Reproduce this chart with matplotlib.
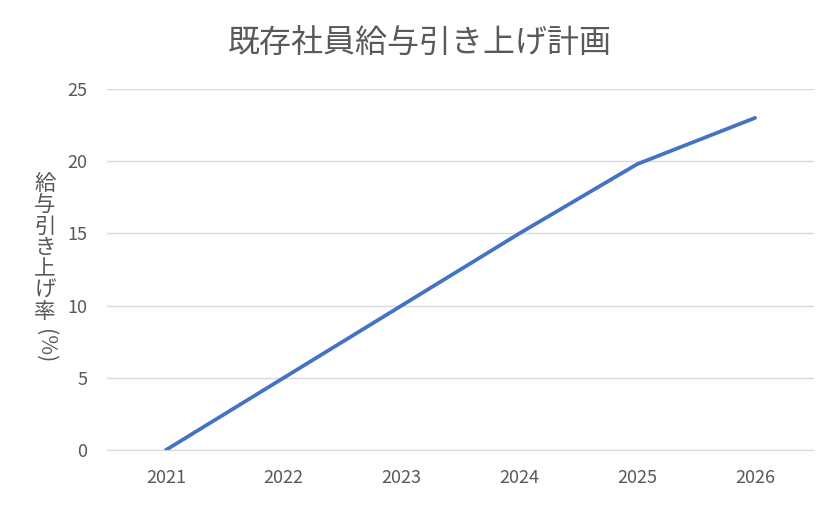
import matplotlib
matplotlib.use("Agg")
import matplotlib.pyplot as plt

plt.rcParams['font.family'] = ['Noto Sans CJK JP', 'DejaVu Sans']

years = ["2021", "2022", "2023", "2024", "2025", "2026"]
rates = [0, 5, 10, 15, 19.8, 23]
title = "既存社員給与引き上げ計画"
ylabel_chars = "給与引き上げ率"
ylabel_unit = "(%)"
yticks = [0, 5, 10, 15, 20, 25]

W, H = 840, 505
fig = plt.figure(figsize=(W / 100, H / 100), dpi=100)
ax = fig.add_axes([107 / W, 1 - 450 / H, (814 - 107) / W, (450 - 89) / H])

x = list(range(len(years)))
ax.plot(x, rates, color="#4472C4", linewidth=2.7, solid_capstyle="round")
ax.set_xlim(-0.5, len(years) - 0.5)
ax.set_ylim(0, 25)
ax.set_yticks(yticks)
ax.set_xticks(x)
ax.set_xticklabels(years)
ax.grid(axis="y", color="#d9d9d9", linewidth=1)
ax.set_axisbelow(True)
for s in ["top", "right", "left"]:
    ax.spines[s].set_visible(False)
ax.spines["bottom"].set_color("#d9d9d9")
ax.tick_params(axis="x", length=0, labelsize=13, colors="#595959", pad=14)
ax.tick_params(axis="y", length=0, labelsize=13, colors="#595959", pad=14)

fig.text(0.5, 1 - 43 / H, title, ha="center", va="center", fontsize=23, color="#595959")

step = 21.3
for i, ch in enumerate(ylabel_chars):
    fig.text(45 / W, 1 - (184 + i * step) / H, ch, ha="center", va="center",
             fontsize=15.5, color="#595959")
fig.text(45 / W, 1 - 346 / H, ylabel_unit, ha="center", va="center",
         fontsize=15.5, color="#595959", rotation=270)

fig.savefig("out.png", dpi=100)
